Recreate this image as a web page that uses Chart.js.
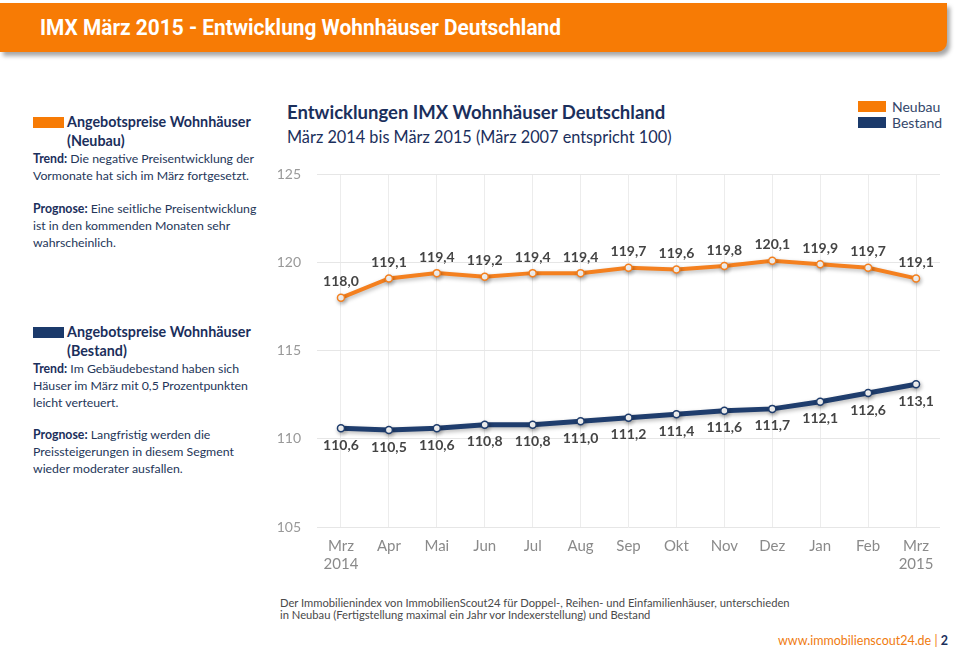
<!DOCTYPE html>
<html lang="de">
<head>
<meta charset="utf-8">
<script src="https://cdn.jsdelivr.net/npm/chart.js@4"></script>
<style>
  html,body{margin:0;padding:0;background:#fff;}
  body{width:960px;height:648px;position:relative;overflow:hidden;font-family:Lato,"Open Sans",sans-serif;color:#1f3256;}
  .hdr{position:absolute;left:0;top:3px;width:947px;height:49px;background:#f77b05;border-bottom-right-radius:10px;box-shadow:3px 4px 4px rgba(0,0,0,0.35);}
  .hdr span{position:absolute;left:40px;top:12px;font-family:Roboto,"Open Sans",sans-serif;font-weight:bold;font-size:22px;line-height:26px;color:#fff;white-space:nowrap;transform-origin:0 50%;display:inline-block;}
  .abs{position:absolute;white-space:nowrap;}
  .sq{position:absolute;width:31px;height:11px;}
  .panel{position:absolute;left:33px;font-size:12.3px;line-height:16.8px;color:#243659;}
  .panel b{color:#1b2f5c;}
  .ph{position:absolute;left:34px;font-size:14.3px;font-weight:bold;color:#1b2f5c;line-height:19px;}
  .ctitle{left:287px;top:101px;font-size:18.5px;font-weight:bold;color:#1b2f5c;}
  .csub{left:287px;top:127px;font-size:16.3px;color:#1b2f5c;}
  .leg{left:892px;font-size:14px;color:#33466a;}
  .foot{left:280px;top:597px;font-size:11.2px;line-height:12px;color:#4a4a4a;}
  .url{right:12px;top:633px;font-size:12.5px;color:#f07b10;}
  .url b{color:#1b2f5c;}
  #wrap{position:absolute;left:260px;top:150px;width:690px;height:440px;}
</style>
</head>
<body>
<div class="hdr"><span id="ht">IMX März 2015 - Entwicklung Wohnhäuser Deutschland</span></div>

<div class="sq" style="left:33px;top:117px;background:#f77b05;"></div>
<div class="ph" style="left:67px;top:112px;">Angebotspreise Wohnhäuser<br>(Neubau)</div>
<div class="panel" style="top:151px;"><b>Trend:</b> Die negative Preisentwicklung der<br>Vormonate hat sich im März fortgesetzt.</div>
<div class="panel" style="top:201px;"><b>Prognose:</b> Eine seitliche Preisentwicklung<br>ist in den kommenden Monaten sehr<br>wahrscheinlich.</div>

<div class="sq" style="left:33px;top:327px;background:#1b3a6b;"></div>
<div class="ph" style="left:67px;top:322px;">Angebotspreise Wohnhäuser<br>(Bestand)</div>
<div class="panel" style="top:361px;"><b>Trend:</b> Im Gebäudebestand haben sich<br>Häuser im März mit 0,5 Prozentpunkten<br>leicht verteuert.</div>
<div class="panel" style="top:427px;"><b>Prognose:</b> Langfristig werden die<br>Preissteigerungen in diesem Segment<br>wieder moderater ausfallen.</div>

<div class="abs ctitle">Entwicklungen IMX Wohnhäuser Deutschland</div>
<div class="abs csub">März 2014 bis März 2015 (März 2007 entspricht 100)</div>

<div class="sq" style="left:858px;top:101px;width:28px;background:#f77b05;"></div>
<div class="abs leg" style="top:98px;">Neubau</div>
<div class="sq" style="left:858px;top:117px;width:28px;background:#1b3a6b;"></div>
<div class="abs leg" style="top:114px;">Bestand</div>

<div id="wrap"><canvas id="c"></canvas></div>

<div class="abs foot">Der Immobilienindex von ImmobilienScout24 für Doppel-, Reihen- und Einfamilienhäuser, unterschieden<br>in Neubau (Fertigstellung maximal ein Jahr vor Indexerstellung) und Bestand</div>
<div class="abs url">www.immobilienscout24.de | <b>2</b></div>

<script>
const months = [["Mrz","2014"],"Apr","Mai","Jun","Jul","Aug","Sep","Okt","Nov","Dez","Jan","Feb",["Mrz","2015"]];
const neubau = [118.0,119.1,119.4,119.2,119.4,119.4,119.7,119.6,119.8,120.1,119.9,119.7,119.1];
const bestand = [110.6,110.5,110.6,110.8,110.8,111.0,111.2,111.4,111.6,111.7,112.1,112.6,113.1];
const yMin = 105, yMax = 125, yStep = 5;

const orange = '#f4801f';
const navy = '#1f3d6d';

// condense header title to reference width
(function(){
  const ht = document.getElementById('ht');
  const w = ht.getBoundingClientRect().width;
  ht.style.transform = 'scaleX(' + (521 / w) + ')';
})();

const fmt = v => v.toFixed(1).replace('.', ',');

const shadowPlugin = {
  id: 'shadow',
  beforeDatasetDraw(chart) {
    const ctx = chart.ctx;
    ctx.save();
    ctx.shadowColor = 'rgba(0,0,0,0.28)';
    ctx.shadowBlur = 4;
    ctx.shadowOffsetX = 1;
    ctx.shadowOffsetY = 2;
  },
  afterDatasetDraw(chart) { chart.ctx.restore(); }
};

const labelPlugin = {
  id: 'pointLabels',
  afterDatasetsDraw(chart) {
    const ctx = chart.ctx;
    ctx.save();
    ctx.font = 'bold 14px Lato, "Open Sans", sans-serif';
    ctx.fillStyle = '#444';
    ctx.textAlign = 'center';
    ctx.textBaseline = 'middle';
    chart.data.datasets.forEach((ds, i) => {
      const meta = chart.getDatasetMeta(i);
      const off = ds.labelOffset;
      meta.data.forEach((pt, j) => {
        ctx.fillText(fmt(ds.data[j]), pt.x, pt.y + off);
      });
    });
    ctx.restore();
  }
};

new Chart(document.getElementById('c'), {
  type: 'line',
  data: {
    labels: months,
    datasets: [
      { label: 'Neubau', data: neubau, borderColor: orange, borderWidth: 4,
        pointRadius: 3.5, pointBackgroundColor: '#fff', pointBorderColor: orange, pointBorderWidth: 1.5,
        tension: 0, labelOffset: -16 },
      { label: 'Bestand', data: bestand, borderColor: navy, borderWidth: 5,
        pointRadius: 3.5, pointBackgroundColor: '#fff', pointBorderColor: navy, pointBorderWidth: 1.5,
        tension: 0, labelOffset: 17 }
    ]
  },
  options: {
    responsive: true,
    maintainAspectRatio: false,
    animation: false,
    layout: { padding: { top: 17, right: 10, left: 0, bottom: 0 } },
    plugins: { legend: { display: false }, title: { display: false }, tooltip: { enabled: false } },
    scales: {
      x: {
        offset: true,
        grid: { offset: false, color: '#ececec', lineWidth: 1, drawTicks: false },
        border: { display: false },
        ticks: { color: '#8a8a8a', font: { family: 'Lato, "Open Sans", sans-serif', size: 15 }, padding: 10, maxRotation: 0, autoSkip: false },
        afterFit(s) { s.height = 63; }
      },
      y: {
        min: yMin, max: yMax,
        grid: { color: '#e6e6e6', lineWidth: 1, drawTicks: false },
        border: { display: false },
        ticks: { stepSize: yStep, color: '#999', font: { family: 'Lato, "Open Sans", sans-serif', size: 14 }, padding: 16 },
        afterFit(s) { s.width = 57; }
      }
    }
  },
  plugins: [shadowPlugin, labelPlugin]
});
</script>
</body>
</html>
